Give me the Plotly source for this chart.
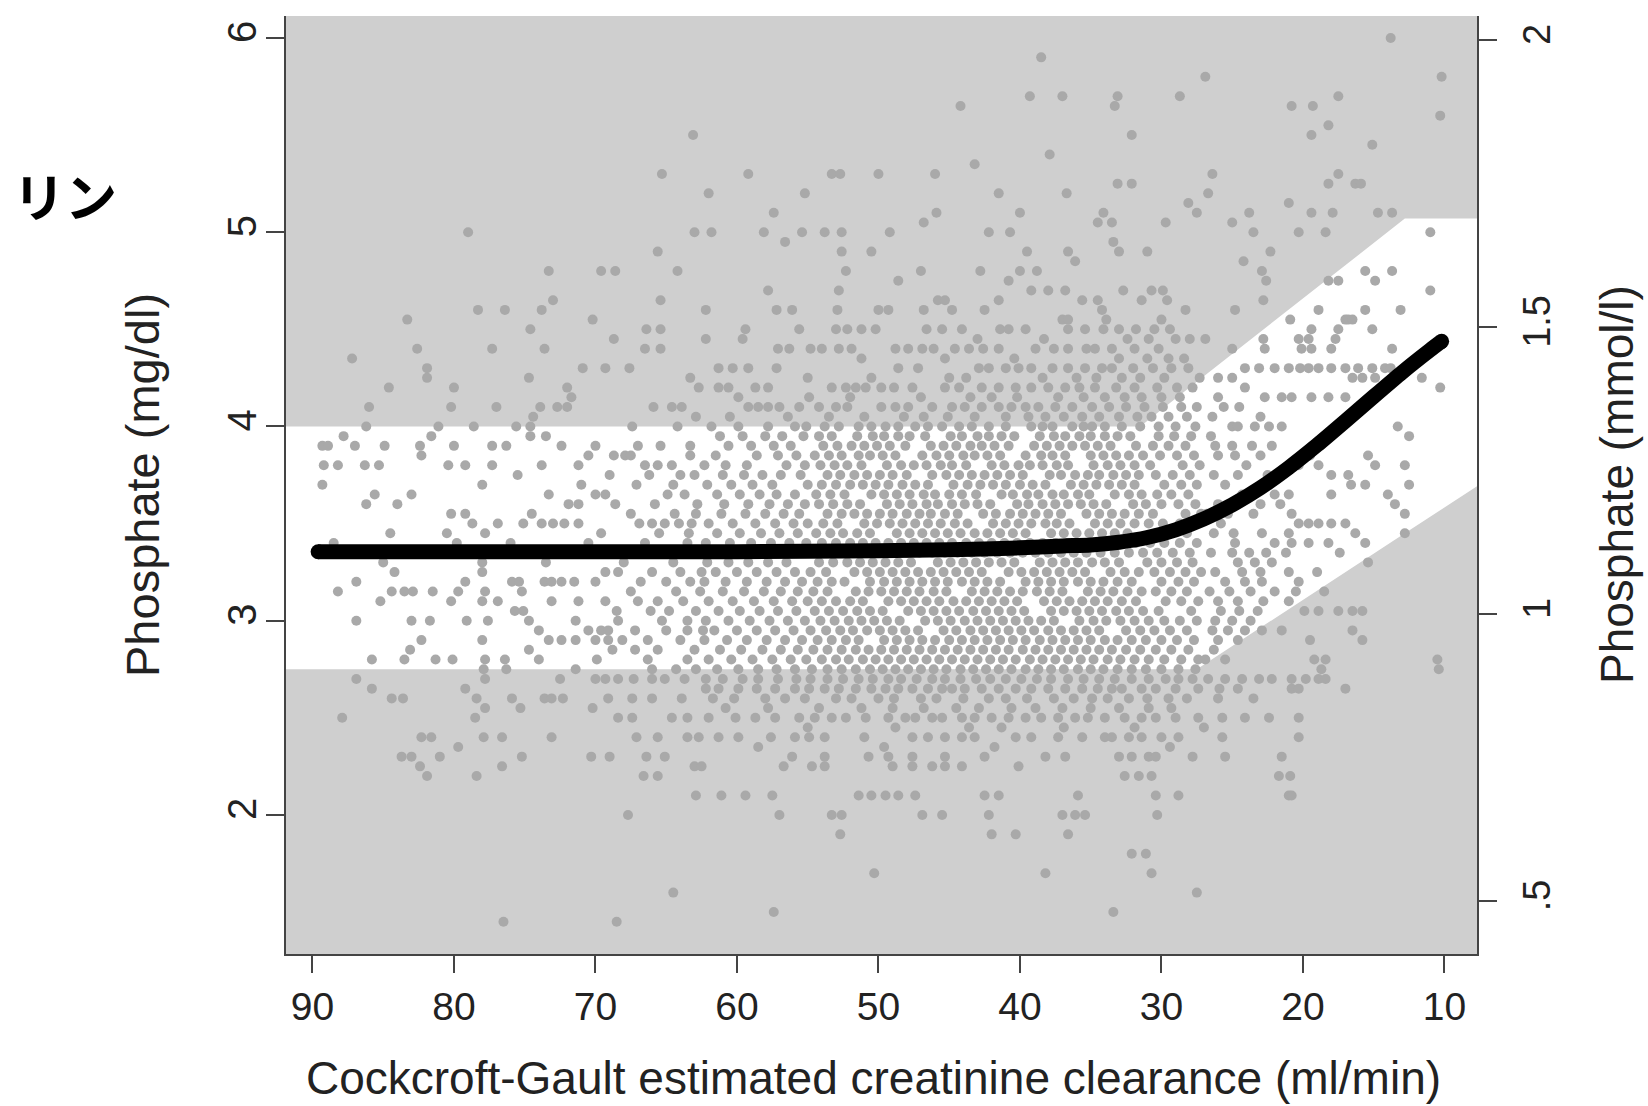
import plotly.graph_objects as go

# ---------------- data ----------------
# Scatter: each phosphate level (mg/dl) with the clearance values (ml/min) of the dots on it
upper_levels = [6.00, 5.90, 5.80, 5.70, 5.65, 5.60, 5.55, 5.50, 5.45, 5.40, 5.35, 5.30, 5.25,
                5.20, 5.15, 5.10, 5.05, 5.00, 4.95, 4.90, 4.85, 4.80, 4.75, 4.70, 4.65, 4.60,
                4.55, 4.50, 4.45, 4.40, 4.35, 4.30, 4.25, 4.20, 4.15, 4.10, 4.05]
upper_rows = [
    [13.8],
    [38.5],
    [26.9, 10.2],
    [39.3, 37.0, 33.1, 28.7, 17.5],
    [44.2, 33.3, 20.8, 19.3],
    [10.3],
    [18.2],
    [63.1, 32.1, 19.4],
    [15.1],
    [37.9],
    [43.2],
    [65.3, 59.2, 53.3, 52.7, 50.0, 46.0, 26.4, 17.5],
    [33.1, 32.1, 18.2, 16.3, 15.9],
    [62.0, 55.2, 41.5, 36.7, 26.7],
    [28.1, 21.0],
    [57.4, 45.9, 40.0, 34.1, 27.5, 23.8, 19.4, 17.9, 14.7, 13.7],
    [46.8, 34.5, 33.5, 29.7, 25.0],
    [79.0, 63.0, 61.8, 58.1, 55.4, 53.8, 52.6, 49.2, 42.2, 40.7, 23.5, 20.3, 18.4, 11.0],
    [56.6, 33.4],
    [65.6, 52.6, 50.5, 39.5, 36.6, 33.0, 31.0, 22.3],
    [36.1, 24.2],
    [73.3, 69.6, 68.6, 64.2, 52.3, 47.0, 42.8, 40.0, 38.8, 22.9, 15.6, 13.7],
    [48.6, 40.8, 22.6, 18.2, 17.5, 14.9],
    [57.8, 52.8, 39.2, 38.0, 36.8, 32.7, 30.7, 29.9, 11.0],
    [73.0, 65.4, 45.8, 45.3, 41.5, 35.6, 34.5, 31.4, 29.6, 22.8],
    [78.3, 76.4, 73.8, 62.2, 57.2, 56.1, 52.9, 50.0, 49.3, 46.8, 44.8, 42.5, 34.2, 28.3, 24.8,
     18.9, 15.6, 13.1],
    [83.3, 70.2, 37.0, 36.6, 33.9, 30.0, 20.9, 17.0, 16.8, 16.5],
    [74.6, 66.4, 65.4, 59.4, 55.6, 53.0, 52.2, 51.2, 50.2, 46.6, 45.5, 44.1, 41.4, 40.8, 39.6,
     36.6, 35.4, 34.1, 33.0, 31.8, 30.5, 29.4, 19.4, 17.5, 15.1],
    [68.7, 62.2, 59.6, 43.0, 38.3, 32.4, 30.9, 29.0, 28.0, 26.9, 22.8, 20.3, 19.6, 17.7],
    [82.6, 77.3, 73.6, 66.5, 65.4, 57.1, 56.3, 54.8, 54.0, 52.8, 51.9, 48.8, 47.9, 46.9, 46.1,
     44.6, 43.6, 42.6, 41.5, 38.9, 37.6, 36.6, 35.3, 34.7, 33.5, 31.9, 30.2, 25.0, 22.7, 20.1,
     19.4, 18.0, 13.7, 11.1],
    [87.2, 51.2, 45.3, 40.4, 33.0, 31.0, 29.5, 28.4, 11.7],
    [81.9, 70.9, 69.3, 67.6, 61.3, 60.3, 59.2, 57.2, 48.6, 47.2, 42.9, 42.2, 41.0, 40.1, 39.2,
     37.7, 36.6, 35.4, 34.2, 33.5, 32.0, 30.6, 29.3, 28.1, 24.1, 23.1, 22.0, 21.0, 20.2, 19.6,
     18.9, 18.0, 17.0, 16.1, 15.1, 14.2, 13.8],
    [81.9, 74.7, 63.3, 55.0, 50.5, 45.0, 43.8, 38.4, 36.0, 34.6, 32.8, 31.5, 29.8, 27.3, 26.0,
     25.0, 16.5, 15.8, 14.9, 11.6],
    [84.6, 80.0, 72.0, 62.7, 61.3, 60.6, 58.7, 57.8, 53.3, 52.3, 51.6, 50.9, 49.8, 48.9, 47.6,
     45.3, 44.3, 42.7, 41.5, 40.3, 39.2, 38.0, 36.8, 35.8, 34.7, 33.2, 31.9, 30.3, 28.9, 27.8,
     24.1, 10.3],
    [71.7, 59.9, 54.9, 52.0, 47.0, 43.5, 42.0, 40.2, 37.3, 35.5, 34.0, 32.6, 31.4, 30.0, 28.7,
     26.0, 22.7, 21.5, 20.8, 19.4, 18.2, 17.0],
    [86.0, 80.2, 77.0, 73.9, 72.7, 72.0, 65.9, 64.6, 63.9, 59.2, 58.5, 57.8, 57.0, 55.6, 54.2,
     53.0, 52.2, 49.8, 48.8, 47.9, 46.2, 44.8, 43.9, 42.7, 41.5, 40.6, 39.6, 38.7, 37.5, 36.3,
     34.9, 33.7, 32.5, 31.2, 29.9, 28.6, 27.5, 25.6, 24.5],
    [74.4, 62.9, 60.5, 56.4, 53.5, 51.0, 48.2, 46.8, 45.1, 43.2, 41.0, 39.4, 38.2, 36.9, 35.6,
     34.4, 33.0, 31.7, 30.7, 29.5, 28.2, 26.4, 23.0],
]

band_levels = [4.00, 3.95, 3.90, 3.85, 3.80, 3.75, 3.70, 3.65, 3.60, 3.55, 3.50, 3.45, 3.40,
               3.35, 3.30, 3.25, 3.20, 3.15, 3.10, 3.05, 3.00, 2.95, 2.90, 2.85, 2.80, 2.75]
band_rows = [
    [86.2, 81.1, 78.6, 75.6, 74.6, 67.4, 64.2, 61.8, 59.9, 57.8, 55.9, 55.1, 53.8, 52.8, 51.4,
     50.5, 49.5, 48.6, 47.4, 46.5, 45.5, 44.3, 43.4, 42.2, 41.0, 39.2, 38.4, 37.7, 36.3, 35.5,
     34.9, 34.0, 32.8, 31.5, 30.2, 29.0, 27.6, 25.0, 24.6, 23.4, 22.4, 21.5, 13.3],
    [87.8, 81.6, 74.6, 73.5, 61.2, 59.6, 58.0, 56.8, 55.3, 54.2, 53.3, 51.5, 50.4, 49.6, 48.6,
     47.8, 46.7, 44.9, 44.1, 43.0, 42.2, 41.3, 40.4, 38.6, 37.6, 36.8, 35.8, 35.0, 34.0, 33.1,
     32.2, 30.2, 29.1, 27.9, 26.5, 12.5],
    [89.3, 88.9, 87.0, 84.9, 82.4, 80.0, 77.3, 76.3, 72.4, 70.0, 67.0, 65.4, 63.3, 60.6, 59.0,
     57.4, 56.2, 53.9, 52.9, 51.9, 51.0, 50.1, 49.2, 48.1, 46.3, 45.4, 44.5, 43.5, 42.7, 41.8,
     40.8, 39.0, 38.1, 37.2, 36.3, 35.4, 34.5, 33.6, 31.8, 30.6, 29.5, 28.3, 26.2, 25.0, 23.6,
     22.2],
    [82.3, 70.5, 68.7, 67.9, 67.5, 63.3, 61.5, 58.6, 57.1, 55.8, 54.5, 53.5, 52.6, 51.4, 50.6,
     49.7, 48.8, 46.9, 45.9, 45.0, 44.0, 43.2, 42.3, 41.4, 39.6, 38.5, 37.7, 36.8, 35.0, 34.1,
     33.2, 32.3, 31.3, 30.1, 28.9, 27.7, 26.0, 24.8, 23.0, 19.5, 15.4],
    [89.2, 88.2, 86.3, 85.3, 80.4, 79.2, 77.3, 73.8, 71.2, 66.5, 65.6, 64.6, 62.3, 60.8, 59.3,
     56.5, 55.2, 54.1, 53.1, 52.2, 51.2, 49.4, 48.4, 47.5, 46.6, 45.6, 44.8, 43.8, 42.0, 41.1,
     40.1, 39.3, 38.4, 37.4, 36.6, 34.8, 33.8, 32.9, 31.9, 30.8, 28.5, 27.3, 24.0, 20.3, 18.9,
     14.9, 12.8],
    [75.5, 69.0, 66.2, 64.0, 63.0, 61.0, 59.5, 58.2, 56.9, 55.5, 53.6, 52.7, 51.7, 50.8, 49.9,
     49.0, 48.0, 46.2, 45.2, 44.3, 43.4, 42.5, 41.6, 40.7, 39.8, 37.9, 37.1, 36.1, 35.2, 34.4,
     33.4, 32.5, 31.6, 30.4, 29.2, 28.0, 26.3, 24.6, 22.5, 18.0, 16.8],
    [89.3, 78.0, 71.0, 67.1, 64.5, 62.1, 60.4, 58.9, 57.5, 55.0, 54.0, 53.0, 52.0, 51.1, 50.2,
     49.3, 48.3, 47.4, 46.5, 44.7, 43.7, 42.8, 41.9, 41.0, 40.0, 39.1, 38.2, 36.4, 35.5, 34.6,
     33.7, 32.8, 31.9, 29.8, 28.6, 27.5, 25.5, 16.6, 15.6, 12.5],
    [85.6, 83.0, 73.3, 70.0, 69.3, 64.9, 63.7, 61.4, 59.8, 58.4, 57.2, 55.9, 54.4, 53.4, 52.4,
     50.5, 49.6, 48.7, 47.8, 46.8, 46.0, 45.0, 44.1, 43.1, 41.3, 40.5, 39.5, 38.7, 37.7, 36.9,
     35.9, 35.1, 33.3, 32.3, 31.4, 30.3, 29.3, 28.1, 24.3, 22.0, 21.0, 18.0, 14.0],
    [86.2, 84.0, 71.9, 71.2, 68.6, 65.8, 62.8, 60.9, 59.2, 57.7, 56.4, 55.2, 54.2, 53.2, 52.2,
     51.3, 49.4, 48.5, 47.6, 46.6, 45.8, 44.8, 43.9, 43.0, 42.1, 40.2, 39.4, 38.4, 37.5, 36.6,
     35.7, 34.8, 33.9, 32.0, 31.1, 30.0, 28.8, 27.6, 26.0, 24.7, 23.0, 21.6, 13.5],
    [80.2, 79.2, 74.5, 67.5, 64.4, 62.9, 61.1, 59.4, 58.0, 56.7, 55.6, 53.6, 52.6, 51.7, 50.8,
     49.9, 49.0, 48.0, 47.1, 46.3, 45.3, 44.4, 42.6, 41.7, 40.7, 39.8, 38.9, 38.0, 37.1, 35.3,
     34.4, 33.5, 32.6, 31.6, 30.6, 28.3, 27.2, 26.8, 25.3, 23.5, 20.8, 12.8],
    [78.7, 76.9, 75.1, 73.8, 73.0, 72.2, 71.2, 66.9, 66.0, 65.1, 64.1, 63.2, 62.0, 60.3, 58.7,
     57.3, 56.0, 55.0, 53.9, 52.9, 51.0, 50.1, 49.2, 48.3, 47.4, 46.5, 45.6, 44.6, 43.7, 41.9,
     41.0, 40.1, 39.2, 38.2, 37.4, 36.5, 34.7, 33.8, 32.9, 31.9, 30.9, 29.9, 28.7, 27.6, 25.8,
     20.3, 19.6, 18.9, 18.0, 17.0],
    [84.5, 80.5, 77.8, 69.6, 65.5, 63.4, 61.4, 59.8, 58.3, 57.0, 55.7, 54.4, 53.4, 52.5, 51.5,
     50.6, 48.7, 47.8, 46.9, 46.0, 45.1, 44.2, 43.2, 42.3, 41.4, 40.5, 39.6, 37.8, 36.9, 36.0,
     35.1, 34.2, 33.3, 32.4, 30.4, 29.3, 28.2, 26.3, 24.9, 22.9, 21.0, 16.3, 12.8],
    [88.5, 79.8, 76.0, 70.5, 66.5, 63.5, 62.2, 60.5, 59.0, 57.6, 56.3, 55.1, 54.0, 53.0, 52.0,
     51.1, 50.2, 49.3, 48.4, 47.5, 46.6, 45.7, 44.8, 43.8, 42.9, 42.0, 41.1, 40.2, 39.3, 38.4,
     37.5, 36.6, 35.7, 34.7, 33.7, 32.8, 31.8, 30.8, 29.8, 28.7, 27.5, 24.8, 22.0, 20.8, 19.6,
     18.2, 15.6],
    [67.5, 65.0, 63.0, 61.2, 59.6, 58.1, 56.8, 55.5, 54.5, 53.5, 52.5, 51.6, 50.7, 49.8, 48.9,
     48.0, 47.1, 46.2, 45.3, 44.4, 43.4, 42.5, 41.6, 40.7, 39.8, 38.9, 38.0, 37.1, 36.2, 35.3,
     34.3, 33.3, 32.3, 31.3, 30.3, 29.2, 28.0, 26.5, 25.0, 23.8, 22.6, 21.2, 17.4],
    [85.0, 78.0, 73.5, 68.0, 64.5, 62.1, 60.6, 59.2, 57.8, 56.5, 54.2, 53.2, 52.2, 51.3, 50.4,
     49.5, 48.6, 47.7, 45.8, 44.9, 44.0, 43.1, 42.2, 41.3, 40.4, 38.6, 37.7, 36.8, 35.9, 34.9,
     34.0, 33.0, 31.0, 30.0, 28.9, 27.8, 24.6, 23.4, 22.2, 15.4],
    [84.2, 78.0, 69.3, 68.4, 66.0, 64.0, 62.5, 61.5, 60.0, 58.6, 57.2, 55.9, 54.8, 53.7, 51.7,
     50.8, 49.9, 49.0, 48.1, 47.2, 46.3, 45.4, 44.5, 43.6, 42.7, 40.8, 39.9, 39.0, 38.1, 37.2,
     36.3, 35.4, 33.6, 32.6, 31.6, 30.5, 29.4, 28.3, 27.2, 26.2, 24.3, 23.0, 21.0, 19.0],
    [86.9, 79.2, 75.9, 75.4, 73.6, 73.1, 72.4, 71.5, 70.0, 66.8, 65.0, 63.3, 62.3, 60.8, 59.3,
     57.9, 56.6, 55.4, 54.3, 53.3, 52.4, 50.6, 49.6, 48.7, 47.8, 46.9, 46.0, 45.1, 44.1, 43.2,
     42.3, 41.4, 39.6, 38.7, 37.8, 36.9, 35.9, 35.0, 34.1, 33.1, 32.1, 30.0, 28.8, 27.7, 25.5,
     24.1, 22.9, 20.3],
    [88.2, 84.4, 83.5, 82.9, 81.5, 79.7, 77.8, 75.2, 67.5, 64.3, 62.6, 61.0, 59.5, 58.1, 56.9,
     55.7, 54.6, 53.6, 51.6, 50.7, 49.8, 48.9, 48.0, 47.1, 46.1, 45.2, 43.4, 42.5, 41.6, 40.7,
     39.8, 38.8, 37.9, 37.0, 35.2, 34.3, 33.4, 32.4, 31.4, 30.4, 29.3, 28.2, 26.6, 25.2, 23.7,
     22.0, 20.5, 18.5],
    [85.2, 80.2, 78.0, 76.9, 73.1, 71.2, 69.3, 67.0, 65.6, 63.8, 62.0, 60.3, 58.8, 57.4, 56.1,
     55.0, 54.0, 53.0, 52.0, 51.1, 49.3, 48.4, 47.5, 46.6, 45.7, 44.7, 43.8, 42.9, 42.0, 41.1,
     40.2, 38.3, 37.4, 36.5, 35.6, 34.7, 33.8, 32.8, 31.8, 29.7, 28.6, 27.4, 26.0, 24.6, 22.8,
     21.0],
    [75.7, 75.1, 68.5, 66.1, 64.8, 62.9, 61.3, 59.8, 58.4, 57.1, 55.8, 54.5, 53.5, 52.5, 51.5,
     50.6, 49.7, 47.9, 47.0, 46.1, 45.2, 44.3, 43.3, 42.4, 41.5, 40.6, 39.7, 37.8, 36.9, 36.0,
     35.1, 34.2, 33.2, 32.3, 31.3, 30.2, 27.9, 25.8, 24.5, 23.2, 19.9, 18.9, 17.5, 16.5, 15.8],
    [86.9, 83.0, 81.7, 79.1, 77.6, 74.7, 71.4, 68.4, 65.3, 63.5, 62.2, 60.6, 59.1, 57.7, 56.4,
     55.2, 54.1, 53.1, 52.1, 51.2, 50.3, 49.4, 48.5, 46.7, 45.8, 44.9, 43.9, 43.0, 42.1, 41.2,
     40.3, 39.4, 38.5, 37.6, 35.8, 34.8, 33.9, 32.9, 31.9, 30.9, 29.8, 28.7, 27.5, 26.2, 25.0,
     23.7],
    [74.0, 70.5, 69.6, 69.1, 67.2, 65.0, 63.5, 62.4, 61.6, 60.0, 58.6, 57.3, 56.0, 54.8, 53.7,
     52.7, 51.8, 50.8, 49.9, 49.0, 48.1, 47.2, 45.4, 44.5, 43.5, 42.6, 41.7, 40.8, 39.9, 39.0,
     38.0, 37.1, 36.2, 35.3, 34.4, 32.5, 31.5, 30.5, 29.4, 28.2, 26.4, 25.3, 24.1, 22.9, 21.5,
     16.5],
    [82.3, 78.0, 73.3, 72.4, 71.4, 70.0, 69.1, 68.1, 66.3, 64.0, 62.3, 60.7, 59.3, 57.9, 56.6,
     55.4, 54.3, 53.3, 52.3, 51.4, 49.6, 48.7, 47.8, 46.9, 46.0, 45.0, 44.1, 43.2, 42.3, 41.4,
     40.5, 39.6, 38.6, 37.7, 36.8, 35.9, 35.0, 34.0, 33.1, 32.1, 31.1, 30.0, 28.9, 27.7, 26.0,
     24.6, 19.5, 15.8],
    [83.1, 74.7, 68.8, 67.2, 65.6, 63.0, 61.2, 59.7, 58.2, 56.9, 55.7, 54.6, 53.6, 52.6, 51.6,
     50.7, 49.8, 48.9, 48.0, 47.1, 46.2, 45.3, 44.4, 43.5, 42.6, 41.7, 40.8, 39.8, 38.9, 38.0,
     37.1, 36.2, 35.3, 34.4, 33.5, 32.5, 31.5, 30.4, 29.3, 28.1, 26.3],
    [85.8, 83.5, 81.3, 80.1, 77.8, 76.4, 74.0, 69.9, 66.3, 63.5, 62.0, 60.4, 58.9, 57.5, 56.2,
     55.1, 54.0, 53.0, 52.1, 51.1, 50.2, 49.3, 48.4, 47.5, 46.6, 45.7, 44.8, 43.9, 43.0, 42.1,
     41.2, 40.3, 39.3, 38.4, 37.5, 36.6, 35.7, 34.8, 33.8, 32.9, 31.9, 30.9, 29.8, 28.6, 27.4,
     26.9, 25.5, 19.2, 18.4, 10.5],
    [77.9, 76.3, 71.4, 66.0, 64.3, 62.9, 61.4, 59.9, 58.5, 57.2, 55.9, 54.7, 53.6, 52.6, 51.6,
     50.6, 49.7, 48.8, 47.9, 47.0, 46.1, 45.2, 44.2, 43.3, 42.4, 41.5, 40.6, 39.6, 38.7, 37.8,
     36.9, 35.9, 35.0, 34.1, 33.1, 32.1, 31.1, 30.0, 28.8, 27.6, 18.7, 10.4],
]

lower_levels = [2.70, 2.65, 2.60, 2.55, 2.50, 2.45, 2.40, 2.35, 2.30, 2.25, 2.20, 2.10, 2.00,
                1.90, 1.80, 1.70, 1.60, 1.50, 1.45]
lower_rows = [
    [86.9, 77.8, 72.5, 70.0, 69.3, 68.4, 67.3, 66.0, 65.1, 63.7, 62.2, 61.0, 59.6, 58.5, 57.1,
     55.8, 54.8, 53.6, 52.5, 51.4, 50.4, 49.3, 48.4, 47.3, 46.2, 45.3, 44.2, 43.1, 42.1, 41.0,
     39.9, 38.8, 37.8, 36.6, 35.5, 34.4, 33.3, 32.1, 30.9, 29.7, 28.8, 27.8, 26.7, 25.5, 24.3,
     23.1, 22.2, 20.8, 19.8, 18.9, 18.4],
    [85.8, 79.2, 62.2, 61.3, 59.9, 58.6, 57.3, 55.9, 54.9, 53.8, 52.8, 51.6, 50.5, 49.5, 48.6,
     47.6, 46.5, 45.5, 44.8, 43.9, 42.7, 41.5, 40.3, 39.2, 38.0, 36.8, 35.6, 34.5, 33.5, 32.8,
     31.4, 30.4, 29.0, 27.4, 25.9, 24.6, 20.8, 20.3, 17.0],
    [84.4, 83.6, 78.4, 75.9, 73.6, 73.1, 72.3, 69.1, 67.4, 66.0, 63.9, 61.7, 60.2, 58.0, 56.6,
     55.2, 53.0, 51.9, 50.0, 48.9, 47.0, 45.9, 44.0, 42.2, 41.0, 39.5, 37.6, 36.2, 34.9, 33.8,
     32.3, 31.0, 29.5, 28.2, 26.0, 23.5],
    [77.8, 75.3, 70.2, 60.8, 57.8, 54.2, 51.2, 49.0, 46.8, 44.5, 42.9, 40.6, 38.9, 37.0, 35.0,
     33.0, 30.9, 29.3],
    [87.9, 78.5, 68.4, 67.4, 64.6, 63.5, 62.0, 60.1, 58.7, 57.3, 55.6, 54.5, 53.3, 52.3, 50.9,
     49.3, 48.1, 47.4, 46.2, 45.5, 44.1, 43.2, 42.0, 40.8, 39.6, 38.5, 37.3, 36.1, 35.2, 34.0,
     32.6, 31.4, 30.4, 29.0, 27.4, 25.7, 24.1, 22.4, 20.3],
    [55.0, 48.8, 43.6, 41.3, 36.9, 31.9, 27.0],
    [82.3, 81.6, 77.9, 76.6, 73.1, 67.1, 65.6, 63.5, 62.7, 61.3, 59.9, 57.6, 55.9, 54.9, 53.8,
     51.0, 47.6, 46.5, 45.3, 44.1, 43.2, 40.3, 39.2, 37.3, 35.6, 34.0, 33.5, 32.3, 31.4, 30.0,
     28.8, 25.7, 20.3],
    [79.7, 58.5, 49.6, 41.8, 29.4],
    [83.7, 83.0, 81.0, 75.2, 70.3, 69.0, 66.4, 65.1, 56.1, 53.8, 50.7, 49.3, 47.6, 45.3, 42.5,
     38.2, 36.8, 33.0, 32.1, 30.9, 30.4, 27.8, 25.5, 21.5],
    [82.4, 76.6, 63.0, 62.5, 56.7, 54.7, 53.8, 49.0, 47.6, 46.2, 45.3, 44.1, 40.1],
    [81.9, 78.4, 66.6, 65.6, 32.6, 31.6, 30.7, 21.7, 20.9],
    [62.9, 61.1, 59.4, 57.5, 51.4, 50.5, 49.5, 48.6, 47.4, 42.5, 41.5, 35.9, 30.4, 28.8, 21.0,
     20.8],
    [67.7, 57.0, 53.3, 52.6, 46.9, 45.5, 42.2, 37.0, 36.1, 35.4, 30.3],
    [52.7, 42.0, 40.3, 36.6],
    [32.1, 31.1],
    [50.3, 38.2, 30.7],
    [64.5, 27.5],
    [57.4, 33.4],
    [76.5, 68.5],
]

# Fitted curve (black)
curve_clearance = [89.6, 80.0, 70.0, 60.0, 50.0, 45.0, 40.0, 37.0, 35.0, 33.0, 31.0, 29.0,
                   27.0, 25.0, 23.0, 21.0, 19.0, 17.0, 15.0, 13.0, 11.0, 10.2]
curve_phosphate = [3.355, 3.355, 3.355, 3.355, 3.36, 3.365, 3.375, 3.385, 3.39, 3.404, 3.428,
                   3.468, 3.524, 3.596, 3.684, 3.788, 3.904, 4.028, 4.154, 4.278, 4.394,
                   4.438]

# White reference band
band_clearance = [95.0, 31.5, 27.5, 12.8, 5.0]
band_upper = [4.0, 4.0, 4.23, 5.07, 5.07]
band_lower = [2.75, 2.75, 2.75, 3.45, 3.82]

x_ticks = [90, 80, 70, 60, 50, 40, 30, 20, 10]
y_ticks = [2, 3, 4, 5, 6]
y2_ticks = [0.5, 1, 1.5, 2]
y2_ticktext = [".5", "1", "1.5", "2"]

# ---------------- build ----------------
def expand(levels, rows):
    xs, ys = [], []
    for lv, row in zip(levels, rows):
        xs.extend(row)
        ys.extend([lv] * len(row))
    return xs, ys

px_all, py_all = [], []
for lv, rw in ((upper_levels, upper_rows), (band_levels, band_rows), (lower_levels, lower_rows)):
    a, b = expand(lv, rw)
    px_all += a
    py_all += b

W, H = 1648, 1106
L, R, T, B = 286, 1477, 16, 954

def paper_x(px):
    return (px - L) / (R - L)

def paper_y(py):
    return (B - py) / (B - T)

FONT = "Liberation Sans, Arial, sans-serif"
AX = "#444444"
TXT = "#222222"

fig = go.Figure()
fig.add_trace(go.Scatter(
    x=band_clearance + band_clearance[::-1],
    y=band_upper + band_lower[::-1],
    fill="toself", fillcolor="white", mode="lines", line=dict(width=0, color="white"),
    hoverinfo="skip", showlegend=False))
fig.add_trace(go.Scatter(
    x=px_all, y=py_all, mode="markers",
    marker=dict(size=10, color="#a9a9a9", line=dict(width=0)),
    showlegend=False))
fig.add_trace(go.Scatter(
    x=curve_clearance, y=curve_phosphate, mode="lines",
    line=dict(color="black", width=15, shape="spline", smoothing=0.6), showlegend=False))
fig.add_trace(go.Scatter(
    x=[curve_clearance[0], curve_clearance[-1]], y=[curve_phosphate[0], curve_phosphate[-1]],
    mode="markers", marker=dict(size=15, color="black"), showlegend=False))
fig.add_trace(go.Scatter(x=[None], y=[None], yaxis="y2", showlegend=False))

fig.update_layout(
    width=W, height=H,
    margin=dict(l=L, r=W - R, t=T, b=H - B),
    paper_bgcolor="white", plot_bgcolor="#cfcfcf",
    showlegend=False,
    font=dict(family=FONT, color=TXT),
    xaxis=dict(range=[91.87, 7.70], tickvals=x_ticks, ticks="outside", ticklen=17,
               tickwidth=2, tickcolor=AX, showline=True, linewidth=2, linecolor=AX,
               showgrid=False, zeroline=False, tickfont=dict(size=39, family=FONT, color=TXT),
               automargin=False, ticklabelstandoff=0),
    yaxis=dict(range=[1.284, 6.113], tickvals=y_ticks, tickangle=-90, ticks="outside",
               ticklen=18, tickwidth=2, tickcolor=AX, showline=True, linewidth=2,
               linecolor=AX, showgrid=False, zeroline=False,
               tickfont=dict(size=40, family=FONT, color=TXT), automargin=False,
               ticklabelstandoff=-6),
    yaxis2=dict(range=[0.408, 2.042], overlaying="y", side="right", tickvals=y2_ticks,
                ticktext=y2_ticktext, tickangle=-90, ticks="outside", ticklen=18,
                tickwidth=2, tickcolor=AX, showline=True, linewidth=2, linecolor=AX,
                showgrid=False, zeroline=False,
                tickfont=dict(size=38, family=FONT, color=TXT), automargin=False,
                ticklabelstandoff=7),
    annotations=[
        dict(text="Phosphate (mg/dl)", xref="paper", yref="paper", x=paper_x(142), y=0.5,
             xanchor="center", yanchor="middle", textangle=-90, showarrow=False,
             font=dict(size=47, family=FONT, color=TXT)),
        dict(text="Phosphate (mmol/l)", xref="paper", yref="paper", x=paper_x(1617), y=0.5,
             xanchor="center", yanchor="middle", textangle=-90, showarrow=False,
             font=dict(size=46, family=FONT, color=TXT)),
        dict(text="Cockcroft-Gault estimated creatinine clearance (ml/min)", xref="paper",
             yref="paper", x=paper_x(873), y=paper_y(1078), xanchor="center",
             yanchor="middle", showarrow=False, font=dict(size=46, family=FONT, color=TXT)),
        dict(text="<b>リン</b>", xref="paper", yref="paper", x=paper_x(65), y=paper_y(194),
             xanchor="center", yanchor="middle", showarrow=False,
             font=dict(size=52, family="Noto Sans CJK JP", color="black")),
    ],
)

fig.write_html("out.html", config={"displayModeBar": False},
               post_script="document.body.style.margin='0px';")
